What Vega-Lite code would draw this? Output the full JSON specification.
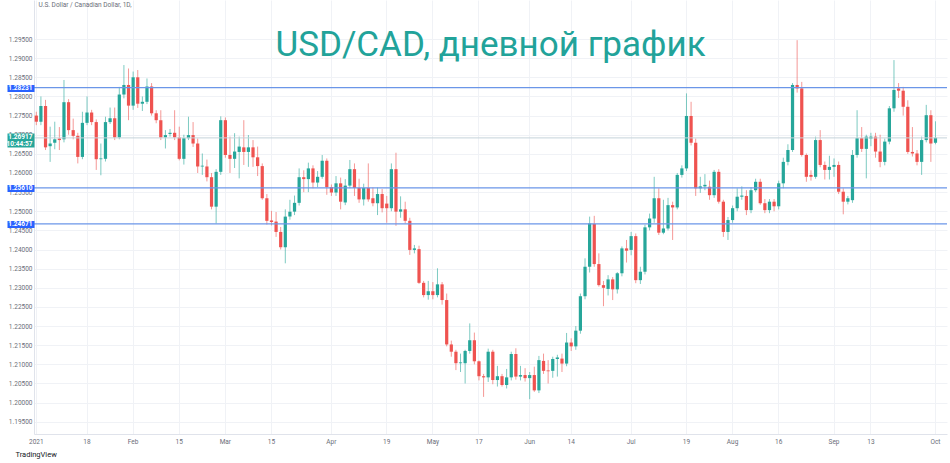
{
  "$schema": "https://vega.github.io/schema/vega-lite/v6.json",
  "width": 913,
  "height": 434,
  "autosize": {"type": "none"},
  "padding": {"left": 34, "top": 0, "right": 3, "bottom": 29},
  "background": "#ffffff",
  "config": {"view": {"stroke": null}},
  "title": {"text": "USD/CAD, дневной график", "anchor": "middle", "orient": "top", "offset": -91, "baseline": "alphabetic", "font": "Roboto", "fontSize": 35, "fontWeight": 400, "color": "#22a39a", "frame": "group"},
  "datasets": {
    "candles": [
      {"date":"2021-01-01","open":1.2750,"high":1.2760,"low":1.2725,"close":1.2734},
      {"date":"2021-01-04","open":1.2734,"high":1.2800,"low":1.2725,"close":1.2775},
      {"date":"2021-01-05","open":1.2775,"high":1.2791,"low":1.2660,"close":1.2667},
      {"date":"2021-01-06","open":1.2670,"high":1.2721,"low":1.2629,"close":1.2677},
      {"date":"2021-01-07","open":1.2679,"high":1.2734,"low":1.2662,"close":1.2688},
      {"date":"2021-01-08","open":1.2690,"high":1.2720,"low":1.2660,"close":1.2686},
      {"date":"2021-01-11","open":1.2688,"high":1.2843,"low":1.2680,"close":1.2785},
      {"date":"2021-01-12","open":1.2785,"high":1.2793,"low":1.2700,"close":1.2712},
      {"date":"2021-01-13","open":1.2712,"high":1.2742,"low":1.2688,"close":1.2697},
      {"date":"2021-01-14","open":1.2697,"high":1.2705,"low":1.2625,"close":1.2642},
      {"date":"2021-01-15","open":1.2642,"high":1.2760,"low":1.2636,"close":1.2731},
      {"date":"2021-01-18","open":1.2731,"high":1.2800,"low":1.2725,"close":1.2758},
      {"date":"2021-01-19","open":1.2758,"high":1.2765,"low":1.2725,"close":1.2733},
      {"date":"2021-01-20","open":1.2733,"high":1.2740,"low":1.2608,"close":1.2636},
      {"date":"2021-01-21","open":1.2636,"high":1.2677,"low":1.2594,"close":1.2638},
      {"date":"2021-01-22","open":1.2637,"high":1.2747,"low":1.2630,"close":1.2733},
      {"date":"2021-01-25","open":1.2733,"high":1.2771,"low":1.2728,"close":1.2743},
      {"date":"2021-01-26","open":1.2743,"high":1.2771,"low":1.2686,"close":1.2693},
      {"date":"2021-01-27","open":1.2693,"high":1.2825,"low":1.2688,"close":1.2805},
      {"date":"2021-01-28","open":1.2805,"high":1.2882,"low":1.2795,"close":1.2830},
      {"date":"2021-01-29","open":1.2830,"high":1.2873,"low":1.2738,"close":1.2776},
      {"date":"2021-02-01","open":1.2776,"high":1.2865,"low":1.2765,"close":1.2850},
      {"date":"2021-02-02","open":1.2850,"high":1.2869,"low":1.2770,"close":1.2781},
      {"date":"2021-02-03","open":1.2781,"high":1.2800,"low":1.2762,"close":1.2786},
      {"date":"2021-02-04","open":1.2786,"high":1.2847,"low":1.2780,"close":1.2826},
      {"date":"2021-02-05","open":1.2826,"high":1.2835,"low":1.2750,"close":1.2756},
      {"date":"2021-02-08","open":1.2756,"high":1.2764,"low":1.2730,"close":1.2738},
      {"date":"2021-02-09","open":1.2738,"high":1.2764,"low":1.2686,"close":1.2693},
      {"date":"2021-02-10","open":1.2693,"high":1.2712,"low":1.2664,"close":1.2699},
      {"date":"2021-02-11","open":1.2702,"high":1.2715,"low":1.2695,"close":1.2705},
      {"date":"2021-02-12","open":1.2705,"high":1.2764,"low":1.2686,"close":1.2693},
      {"date":"2021-02-15","open":1.2693,"high":1.2721,"low":1.2633,"close":1.2637},
      {"date":"2021-02-16","open":1.2637,"high":1.2700,"low":1.2622,"close":1.2691},
      {"date":"2021-02-17","open":1.2691,"high":1.2747,"low":1.2686,"close":1.2699},
      {"date":"2021-02-18","open":1.2699,"high":1.2733,"low":1.2668,"close":1.2677},
      {"date":"2021-02-19","open":1.2677,"high":1.2690,"low":1.2600,"close":1.2617},
      {"date":"2021-02-22","open":1.2617,"high":1.2651,"low":1.2595,"close":1.2619},
      {"date":"2021-02-23","open":1.2617,"high":1.2635,"low":1.2578,"close":1.2589},
      {"date":"2021-02-24","open":1.2589,"high":1.2600,"low":1.2505,"close":1.2512},
      {"date":"2021-02-25","open":1.2512,"high":1.2610,"low":1.2468,"close":1.2603},
      {"date":"2021-02-26","open":1.2603,"high":1.2748,"low":1.2595,"close":1.2738},
      {"date":"2021-03-01","open":1.2738,"high":1.2745,"low":1.2640,"close":1.2647},
      {"date":"2021-03-02","open":1.2647,"high":1.2695,"low":1.2600,"close":1.2637},
      {"date":"2021-03-03","open":1.2637,"high":1.2704,"low":1.2613,"close":1.2656},
      {"date":"2021-03-04","open":1.2655,"high":1.2695,"low":1.2586,"close":1.2669},
      {"date":"2021-03-05","open":1.2667,"high":1.2738,"low":1.2621,"close":1.2655},
      {"date":"2021-03-08","open":1.2655,"high":1.2699,"low":1.2616,"close":1.2667},
      {"date":"2021-03-09","open":1.2667,"high":1.2686,"low":1.2616,"close":1.2641},
      {"date":"2021-03-10","open":1.2641,"high":1.2669,"low":1.2592,"close":1.2618},
      {"date":"2021-03-11","open":1.2618,"high":1.2625,"low":1.2530,"close":1.2534},
      {"date":"2021-03-12","open":1.2534,"high":1.2545,"low":1.2465,"close":1.2475},
      {"date":"2021-03-15","open":1.2476,"high":1.2501,"low":1.2463,"close":1.2472},
      {"date":"2021-03-16","open":1.2473,"high":1.2498,"low":1.2433,"close":1.2446},
      {"date":"2021-03-17","open":1.2446,"high":1.2459,"low":1.2400,"close":1.2406},
      {"date":"2021-03-18","open":1.2406,"high":1.2505,"low":1.2364,"close":1.2486},
      {"date":"2021-03-19","open":1.2486,"high":1.2530,"low":1.2478,"close":1.2499},
      {"date":"2021-03-22","open":1.2499,"high":1.2541,"low":1.2490,"close":1.2522},
      {"date":"2021-03-23","open":1.2522,"high":1.2612,"low":1.2515,"close":1.2589},
      {"date":"2021-03-24","open":1.2589,"high":1.2607,"low":1.2550,"close":1.2584},
      {"date":"2021-03-25","open":1.2584,"high":1.2627,"low":1.2550,"close":1.2612},
      {"date":"2021-03-26","open":1.2612,"high":1.2620,"low":1.2560,"close":1.2575},
      {"date":"2021-03-29","open":1.2575,"high":1.2605,"low":1.2563,"close":1.2590},
      {"date":"2021-03-30","open":1.2590,"high":1.2647,"low":1.2585,"close":1.2632},
      {"date":"2021-03-31","open":1.2632,"high":1.2638,"low":1.2543,"close":1.2563},
      {"date":"2021-04-01","open":1.2563,"high":1.2570,"low":1.2540,"close":1.2549},
      {"date":"2021-04-02","open":1.2549,"high":1.2592,"low":1.2540,"close":1.2573},
      {"date":"2021-04-05","open":1.2573,"high":1.2588,"low":1.2505,"close":1.2525},
      {"date":"2021-04-06","open":1.2523,"high":1.2584,"low":1.2516,"close":1.2567},
      {"date":"2021-04-07","open":1.2567,"high":1.2634,"low":1.2560,"close":1.2610},
      {"date":"2021-04-08","open":1.2610,"high":1.2625,"low":1.2540,"close":1.2561},
      {"date":"2021-04-09","open":1.2561,"high":1.2585,"low":1.2522,"close":1.2531},
      {"date":"2021-04-12","open":1.2531,"high":1.2572,"low":1.2515,"close":1.2561},
      {"date":"2021-04-13","open":1.2561,"high":1.2625,"low":1.2525,"close":1.2531},
      {"date":"2021-04-14","open":1.2534,"high":1.2562,"low":1.2513,"close":1.2521},
      {"date":"2021-04-15","open":1.2521,"high":1.2562,"low":1.2490,"close":1.2545},
      {"date":"2021-04-16","open":1.2545,"high":1.2558,"low":1.2497,"close":1.2508},
      {"date":"2021-04-19","open":1.2520,"high":1.2540,"low":1.2470,"close":1.2508},
      {"date":"2021-04-20","open":1.2508,"high":1.2625,"low":1.2500,"close":1.2610},
      {"date":"2021-04-21","open":1.2610,"high":1.2653,"low":1.2462,"close":1.2499},
      {"date":"2021-04-22","open":1.2499,"high":1.2539,"low":1.2483,"close":1.2505},
      {"date":"2021-04-23","open":1.2505,"high":1.2525,"low":1.2468,"close":1.2475},
      {"date":"2021-04-26","open":1.2475,"high":1.2483,"low":1.2386,"close":1.2399},
      {"date":"2021-04-27","open":1.2399,"high":1.2412,"low":1.2390,"close":1.2403},
      {"date":"2021-04-28","open":1.2401,"high":1.2410,"low":1.2310,"close":1.2313},
      {"date":"2021-04-29","open":1.2313,"high":1.2318,"low":1.2275,"close":1.2281},
      {"date":"2021-04-30","open":1.2281,"high":1.2318,"low":1.2269,"close":1.2291},
      {"date":"2021-05-03","open":1.2291,"high":1.2315,"low":1.2270,"close":1.2281},
      {"date":"2021-05-04","open":1.2281,"high":1.2351,"low":1.2275,"close":1.2309},
      {"date":"2021-05-05","open":1.2309,"high":1.2315,"low":1.2256,"close":1.2268},
      {"date":"2021-05-06","open":1.2268,"high":1.2285,"low":1.2147,"close":1.2152},
      {"date":"2021-05-07","open":1.2152,"high":1.2162,"low":1.2120,"close":1.2133},
      {"date":"2021-05-10","open":1.2133,"high":1.2138,"low":1.2085,"close":1.2103},
      {"date":"2021-05-11","open":1.2103,"high":1.2128,"low":1.2080,"close":1.2105},
      {"date":"2021-05-12","open":1.2103,"high":1.2138,"low":1.2050,"close":1.2135},
      {"date":"2021-05-13","open":1.2135,"high":1.2207,"low":1.2128,"close":1.2163},
      {"date":"2021-05-14","open":1.2163,"high":1.2183,"low":1.2100,"close":1.2108},
      {"date":"2021-05-17","open":1.2108,"high":1.2110,"low":1.2058,"close":1.2069},
      {"date":"2021-05-18","open":1.2069,"high":1.2075,"low":1.2015,"close":1.2066},
      {"date":"2021-05-19","open":1.2066,"high":1.2141,"low":1.2054,"close":1.2133},
      {"date":"2021-05-20","open":1.2133,"high":1.2138,"low":1.2048,"close":1.2059},
      {"date":"2021-05-21","open":1.2059,"high":1.2096,"low":1.2042,"close":1.2069},
      {"date":"2021-05-24","open":1.2069,"high":1.2075,"low":1.2042,"close":1.2046},
      {"date":"2021-05-25","open":1.2046,"high":1.2088,"low":1.2037,"close":1.2066},
      {"date":"2021-05-26","open":1.2066,"high":1.2133,"low":1.2058,"close":1.2127},
      {"date":"2021-05-27","open":1.2127,"high":1.2142,"low":1.2060,"close":1.2068},
      {"date":"2021-05-28","open":1.2068,"high":1.2096,"low":1.2058,"close":1.2072},
      {"date":"2021-05-31","open":1.2072,"high":1.2090,"low":1.2055,"close":1.2064},
      {"date":"2021-06-01","open":1.2064,"high":1.2080,"low":1.2009,"close":1.2072},
      {"date":"2021-06-02","open":1.2072,"high":1.2094,"low":1.2028,"close":1.2032},
      {"date":"2021-06-03","open":1.2032,"high":1.2122,"low":1.2025,"close":1.2111},
      {"date":"2021-06-04","open":1.2109,"high":1.2128,"low":1.2075,"close":1.2083},
      {"date":"2021-06-07","open":1.2084,"high":1.2111,"low":1.2050,"close":1.2082},
      {"date":"2021-06-08","open":1.2083,"high":1.2120,"low":1.2065,"close":1.2114},
      {"date":"2021-06-09","open":1.2114,"high":1.2125,"low":1.2068,"close":1.2118},
      {"date":"2021-06-10","open":1.2115,"high":1.2128,"low":1.2080,"close":1.2102},
      {"date":"2021-06-11","open":1.2102,"high":1.2182,"low":1.2095,"close":1.2157},
      {"date":"2021-06-14","open":1.2157,"high":1.2168,"low":1.2135,"close":1.2147},
      {"date":"2021-06-15","open":1.2147,"high":1.2200,"low":1.2138,"close":1.2188},
      {"date":"2021-06-16","open":1.2188,"high":1.2285,"low":1.2180,"close":1.2278},
      {"date":"2021-06-17","open":1.2278,"high":1.2377,"low":1.2270,"close":1.2355},
      {"date":"2021-06-18","open":1.2355,"high":1.2486,"low":1.2340,"close":1.2468},
      {"date":"2021-06-21","open":1.2467,"high":1.2488,"low":1.2355,"close":1.2362},
      {"date":"2021-06-22","open":1.2362,"high":1.2390,"low":1.2303,"close":1.2307},
      {"date":"2021-06-23","open":1.2307,"high":1.2318,"low":1.2252,"close":1.2300},
      {"date":"2021-06-24","open":1.2297,"high":1.2333,"low":1.2280,"close":1.2322},
      {"date":"2021-06-25","open":1.2322,"high":1.2328,"low":1.2268,"close":1.2296},
      {"date":"2021-06-28","open":1.2296,"high":1.2341,"low":1.2285,"close":1.2338},
      {"date":"2021-06-29","open":1.2338,"high":1.2408,"low":1.2330,"close":1.2403},
      {"date":"2021-06-30","open":1.2403,"high":1.2425,"low":1.2366,"close":1.2397},
      {"date":"2021-07-01","open":1.2399,"high":1.2446,"low":1.2385,"close":1.2435},
      {"date":"2021-07-02","open":1.2435,"high":1.2442,"low":1.2312,"close":1.2320},
      {"date":"2021-07-05","open":1.2320,"high":1.2355,"low":1.2310,"close":1.2342},
      {"date":"2021-07-06","open":1.2342,"high":1.2465,"low":1.2335,"close":1.2458},
      {"date":"2021-07-07","open":1.2458,"high":1.2494,"low":1.2450,"close":1.2481},
      {"date":"2021-07-08","open":1.2481,"high":1.2590,"low":1.2470,"close":1.2534},
      {"date":"2021-07-09","open":1.2534,"high":1.2560,"low":1.2438,"close":1.2444},
      {"date":"2021-07-12","open":1.2444,"high":1.2530,"low":1.2440,"close":1.2455},
      {"date":"2021-07-13","open":1.2455,"high":1.2535,"low":1.2450,"close":1.2516},
      {"date":"2021-07-14","open":1.2516,"high":1.2525,"low":1.2425,"close":1.2510},
      {"date":"2021-07-15","open":1.2510,"high":1.2600,"low":1.2505,"close":1.2595},
      {"date":"2021-07-16","open":1.2595,"high":1.2620,"low":1.2588,"close":1.2612},
      {"date":"2021-07-19","open":1.2612,"high":1.2808,"low":1.2605,"close":1.2749},
      {"date":"2021-07-20","open":1.2749,"high":1.2786,"low":1.2672,"close":1.2679},
      {"date":"2021-07-21","open":1.2679,"high":1.2690,"low":1.2540,"close":1.2560},
      {"date":"2021-07-22","open":1.2560,"high":1.2590,"low":1.2548,"close":1.2565},
      {"date":"2021-07-23","open":1.2565,"high":1.2597,"low":1.2555,"close":1.2569},
      {"date":"2021-07-26","open":1.2564,"high":1.2580,"low":1.2530,"close":1.2542},
      {"date":"2021-07-27","open":1.2542,"high":1.2608,"low":1.2535,"close":1.2603},
      {"date":"2021-07-28","open":1.2603,"high":1.2610,"low":1.2520,"close":1.2525},
      {"date":"2021-07-29","open":1.2525,"high":1.2530,"low":1.2433,"close":1.2446},
      {"date":"2021-07-30","open":1.2446,"high":1.2485,"low":1.2425,"close":1.2477},
      {"date":"2021-08-02","open":1.2477,"high":1.2515,"low":1.2470,"close":1.2508},
      {"date":"2021-08-03","open":1.2508,"high":1.2560,"low":1.2500,"close":1.2538},
      {"date":"2021-08-04","open":1.2538,"high":1.2565,"low":1.2530,"close":1.2541},
      {"date":"2021-08-05","open":1.2540,"high":1.2555,"low":1.2490,"close":1.2503},
      {"date":"2021-08-06","open":1.2503,"high":1.2563,"low":1.2495,"close":1.2555},
      {"date":"2021-08-09","open":1.2555,"high":1.2585,"low":1.2550,"close":1.2577},
      {"date":"2021-08-10","open":1.2577,"high":1.2585,"low":1.2517,"close":1.2521},
      {"date":"2021-08-11","open":1.2521,"high":1.2532,"low":1.2495,"close":1.2503},
      {"date":"2021-08-12","open":1.2503,"high":1.2532,"low":1.2495,"close":1.2525},
      {"date":"2021-08-13","open":1.2525,"high":1.2532,"low":1.2500,"close":1.2513},
      {"date":"2021-08-16","open":1.2513,"high":1.2580,"low":1.2505,"close":1.2573},
      {"date":"2021-08-17","open":1.2573,"high":1.2640,"low":1.2560,"close":1.2629},
      {"date":"2021-08-18","open":1.2629,"high":1.2675,"low":1.2620,"close":1.2660},
      {"date":"2021-08-19","open":1.2660,"high":1.2835,"low":1.2655,"close":1.2830},
      {"date":"2021-08-20","open":1.2830,"high":1.2947,"low":1.2810,"close":1.2821},
      {"date":"2021-08-23","open":1.2821,"high":1.2838,"low":1.2643,"close":1.2647},
      {"date":"2021-08-24","open":1.2647,"high":1.2651,"low":1.2577,"close":1.2590},
      {"date":"2021-08-25","open":1.2595,"high":1.2607,"low":1.2580,"close":1.2590},
      {"date":"2021-08-26","open":1.2590,"high":1.2695,"low":1.2585,"close":1.2686},
      {"date":"2021-08-27","open":1.2686,"high":1.2712,"low":1.2615,"close":1.2621},
      {"date":"2021-08-30","open":1.2621,"high":1.2630,"low":1.2583,"close":1.2608},
      {"date":"2021-08-31","open":1.2608,"high":1.2645,"low":1.2583,"close":1.2616},
      {"date":"2021-09-01","open":1.2616,"high":1.2638,"low":1.2590,"close":1.2621},
      {"date":"2021-09-02","open":1.2621,"high":1.2630,"low":1.2545,"close":1.2551},
      {"date":"2021-09-03","open":1.2551,"high":1.2560,"low":1.2492,"close":1.2525},
      {"date":"2021-09-06","open":1.2525,"high":1.2540,"low":1.2518,"close":1.2534},
      {"date":"2021-09-07","open":1.2529,"high":1.2660,"low":1.2522,"close":1.2647},
      {"date":"2021-09-08","open":1.2647,"high":1.2764,"low":1.2640,"close":1.2691},
      {"date":"2021-09-09","open":1.2691,"high":1.2720,"low":1.2655,"close":1.2663},
      {"date":"2021-09-10","open":1.2663,"high":1.2700,"low":1.2586,"close":1.2695},
      {"date":"2021-09-13","open":1.2690,"high":1.2705,"low":1.2670,"close":1.2695},
      {"date":"2021-09-14","open":1.2695,"high":1.2705,"low":1.2640,"close":1.2656},
      {"date":"2021-09-15","open":1.2656,"high":1.2700,"low":1.2615,"close":1.2629},
      {"date":"2021-09-16","open":1.2629,"high":1.2690,"low":1.2620,"close":1.2682},
      {"date":"2021-09-17","open":1.2682,"high":1.2775,"low":1.2675,"close":1.2769},
      {"date":"2021-09-20","open":1.2769,"high":1.2895,"low":1.2760,"close":1.2817},
      {"date":"2021-09-21","open":1.2821,"high":1.2835,"low":1.2796,"close":1.2815},
      {"date":"2021-09-22","open":1.2815,"high":1.2825,"low":1.2750,"close":1.2773},
      {"date":"2021-09-23","open":1.2773,"high":1.2790,"low":1.2650,"close":1.2655},
      {"date":"2021-09-24","open":1.2655,"high":1.2720,"low":1.2643,"close":1.2651},
      {"date":"2021-09-27","open":1.2651,"high":1.2660,"low":1.2620,"close":1.2629},
      {"date":"2021-09-28","open":1.2629,"high":1.2695,"low":1.2595,"close":1.2686},
      {"date":"2021-09-29","open":1.2686,"high":1.2778,"low":1.2680,"close":1.2751},
      {"date":"2021-09-30","open":1.2751,"high":1.2764,"low":1.2629,"close":1.2677},
      {"date":"2021-10-01","open":1.2679,"high":1.2735,"low":1.2675,"close":1.2692}
    ],
    "levels": [
      {"level": 1.28231},
      {"level": 1.25610},
      {"level": 1.24671},
      {"level": 1.26917}
    ]
  },
  "layer": [
    {
      "data": {"name": "candles"},
      "encoding": {
        "x": {
          "field": "date", "type": "ordinal",
          "scale": {"type": "band", "paddingInner": 0, "paddingOuter": 1, "align": 0},
          "axis": {
            "values": ["2021-01-01","2021-01-18","2021-02-01","2021-02-15","2021-03-01","2021-03-15","2021-04-01","2021-04-19","2021-05-03","2021-05-17","2021-06-01","2021-06-14","2021-07-01","2021-07-19","2021-08-02","2021-08-16","2021-09-01","2021-09-13","2021-10-01"],
            "labelExpr": "datum.value == '2021-01-01' ? '2021' : (toNumber(slice(datum.value, 8)) <= 3 ? ['Jan','Feb','Mar','Apr','May','Jun','Jul','Aug','Sep','Oct','Nov','Dec'][toNumber(slice(datum.value, 5, 7)) - 1] : toString(toNumber(slice(datum.value, 8))))",
            "labelAngle": 0, "ticks": false, "tickSize": 0, "labelPadding": 4,
            "labelFontSize": 6.5, "labelColor": "#6a6d78", "labelFont": "Roboto",
            "domainColor": "#e0e3eb", "grid": true, "gridColor": "#f0f2f6", "bandPosition": 0.5,
            "labelOverlap": false,
            "title": "TradingView", "titleX": -19, "titleY": 20, "titleAlign": "left", "titleBaseline": "middle",
            "titleFontSize": 7.5, "titleFontWeight": "normal", "titleColor": "#131722", "titleFont": "Roboto"
          }
        },
        "color": {"condition": {"test": "datum.close >= datum.open", "value": "#26a69a"}, "value": "#ef5350"}
      },
      "layer": [
        {
          "mark": {"type": "rule", "strokeWidth": 1, "opacity": 0.6},
          "encoding": {
            "y": {"field": "low", "type": "quantitative", "scale": {"domain": [1.1918, 1.3052], "zero": false, "nice": false},
              "axis": {"orient": "left", "values": [1.195,1.2,1.205,1.21,1.215,1.22,1.225,1.23,1.235,1.24,1.245,1.25,1.255,1.26,1.265,1.27,1.275,1.28,1.285,1.29,1.295], "format": ".5f", "ticks": false, "tickSize": 0, "labelPadding": 2, "labelFontSize": 6.5, "labelColor": "#6a6d78", "labelFont": "Roboto", "domainColor": "#e0e3eb", "grid": true, "gridColor": "#f0f2f6", "labelFlush": false, "labelOverlap": false, "zindex": 0,
                "title": "U.S. Dollar / Canadian Dollar, 1D,", "titleAngle": 0, "titleAlign": "left", "titleBaseline": "top", "titleX": 4, "titleY": 1, "titleFontSize": 6.5, "titleFontWeight": "normal", "titleColor": "#6a6d78", "titleFont": "Roboto"}},
            "y2": {"field": "high"}
          }
        },
        {
          "mark": {"type": "bar", "width": {"band": 0.7}},
          "encoding": {
            "y": {"field": "open", "type": "quantitative", "scale": {"domain": [1.1918, 1.3052], "zero": false, "nice": false},
              "axis": {"orient": "left", "values": [1.195,1.2,1.205,1.21,1.215,1.22,1.225,1.23,1.235,1.24,1.245,1.25,1.255,1.26,1.265,1.27,1.275,1.28,1.285,1.29,1.295], "format": ".5f", "ticks": false, "tickSize": 0, "labelPadding": 2, "labelFontSize": 6.5, "labelColor": "#6a6d78", "labelFont": "Roboto", "domainColor": "#e0e3eb", "grid": true, "gridColor": "#f0f2f6", "labelFlush": false, "labelOverlap": false, "zindex": 0,
                "title": "U.S. Dollar / Canadian Dollar, 1D,", "titleAngle": 0, "titleAlign": "left", "titleBaseline": "top", "titleX": 4, "titleY": 1, "titleFontSize": 6.5, "titleFontWeight": "normal", "titleColor": "#6a6d78", "titleFont": "Roboto"}},
            "y2": {"field": "close"}
          }
        }
      ]
    },
    {
      "data": {"name": "levels"},
      "transform": [{"filter": "datum.level != 1.26917"}],
      "mark": {"type": "rule", "color": "#6b96e8", "strokeWidth": 1.3},
      "encoding": {
        "y": {"field": "level", "type": "quantitative", "scale": {"domain": [1.1918, 1.3052], "zero": false, "nice": false},
          "axis": {"orient": "left", "values": [1.28231, 1.2685, 1.2561, 1.24671],
            "labelExpr": "abs(datum.value - 1.2685) < 0.00001 ? ['1.26917', '10:44:57'] : format(datum.value, '.5f')",
            "ticks": true, "tickSize": 27, "labelPadding": -25,
            "tickWidth": {"condition": {"test": "abs(datum.value - 1.2685) < 0.00001", "value": 14}, "value": 7},
            "tickColor": {"condition": {"test": "abs(datum.value - 1.2685) < 0.00001", "value": "#26a69a"}, "value": "#2962ff"},
            "labelOffset": {"condition": {"test": "abs(datum.value - 1.2685) < 0.00001", "value": -4}, "value": 0},
            "labelColor": "#ffffff", "labelFontSize": 6.5, "labelFontWeight": "bold", "labelFont": "Roboto", "labelLineHeight": 7.5,
            "labelBaseline": "middle", "labelFlush": false, "labelOverlap": false, "domain": false, "grid": false, "zindex": 2, "title": null}
        }
      }
    },
    {
      "data": {"name": "levels"},
      "transform": [{"filter": "datum.level == 1.26917"}],
      "mark": {"type": "rule", "color": "#c5d3da", "strokeWidth": 1},
      "encoding": {
        "y": {"field": "level", "type": "quantitative", "scale": {"domain": [1.1918, 1.3052], "zero": false, "nice": false}, "axis": null}
      }
    }
  ],
  "resolve": {"axis": {"y": "independent"}}
}
